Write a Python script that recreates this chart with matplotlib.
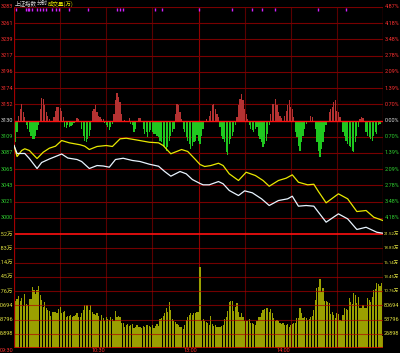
import numpy as np
import matplotlib
matplotlib.use('Agg')
import matplotlib.pyplot as plt
import matplotlib.transforms as mtransforms

plt.rcParams['font.family'] = ['Noto Sans CJK SC', 'DejaVu Sans']
NARROW = ['Roboto', 'Noto Sans CJK SC']

# ---- data ----
prev_close = 3130.4
step = 21.78  # one grid row = 0.70%

price_ticks_left = ['3283', '3261', '3239', '3217', '3196', '3174', '3152', '3130',
                    '3109', '3087', '3065', '3043', '3021', '3000']
price_ticks_right = ['4.87%', '4.18%', '3.48%', '2.78%', '2.09%', '1.39%', '0.70%', '0.00%',
                     '0.70%', '1.39%', '2.09%', '2.78%', '3.48%', '4.18%']
vol_ticks = ['21.52万', '18.83万', '16.14万', '13.45万', '10.76万', '80694', '53796', '26898']
vol_step = 2.6898  # 万

time_labels = ['09:30', '10:30', '13:00', '14:00']
time_pos = [0, 60, 120, 180]

# white line: index
price_min = [0, 2, 7, 10, 15, 18, 23, 27, 31, 35, 41, 44, 49, 54, 58, 62, 66, 71, 77, 82,
             88, 94, 98, 102, 108, 112, 116, 121, 123, 127, 133, 136, 140, 146, 150, 155,
             161, 166, 172, 178, 181, 185, 190, 195, 203, 211, 217, 223, 229, 236, 240]
price = [3096.8, 3086.1, 3086.1, 3079.3, 3065.9, 3074.0, 3078.7, 3082.0, 3085.4, 3080.0,
         3078.0, 3075.3, 3065.9, 3069.9, 3069.3, 3067.7, 3078.0, 3079.7, 3076.7, 3075.3,
         3071.7, 3069.0, 3061.9, 3055.6, 3061.9, 3058.8, 3051.1, 3045.8, 3044.0, 3044.0,
         3048.4, 3045.4, 3036.4, 3029.6, 3035.9, 3033.3, 3025.2, 3016.2, 3022.9, 3025.2,
         3028.7, 3015.3, 3016.2, 3015.3, 2993.8, 3005.0, 2998.3, 2984.0, 2987.0, 2980.3,
         2979.0]

# yellow line: leading index
lead_min = [0, 2, 5, 7, 10, 15, 19, 23, 27, 31, 36, 43, 46, 49, 54, 60, 64, 69, 73, 79,
            88, 94, 97, 100, 102, 109, 113, 118, 121, 124, 128, 133, 136, 140, 146, 151,
            157, 162, 166, 172, 177, 181, 185, 191, 195, 198, 203, 211, 217, 223, 229, 234,
            240]
lead = [3096.8, 3082.0, 3090.1, 3092.4, 3090.1, 3079.3, 3087.8, 3093.2, 3095.9, 3103.5,
        3100.4, 3097.8, 3095.9, 3091.4, 3095.5, 3096.8, 3095.5, 3105.8, 3106.6, 3104.5,
        3101.2, 3100.4, 3096.8, 3090.1, 3085.7, 3091.4, 3088.8, 3078.0, 3071.3, 3068.6,
        3069.9, 3073.0, 3069.9, 3058.8, 3049.8, 3060.9, 3056.5, 3049.8, 3042.1, 3049.8,
        3052.9, 3057.4, 3047.5, 3044.0, 3044.8, 3035.0, 3019.8, 3031.9, 3025.2, 3008.1,
        3009.5, 3000.5, 2996.0]

# red / green bars around the 0% line, one per minute (index points)
lead_bars = [
    -31.4, -29.0, -15.7, 6.7, 15.7, 22.4, 11.2, 4.5, -6.7, -11.2,
    -15.7, -20.2, -24.6, -24.6, -21.0, -13.4, -6.7, 15.7, 30.0, 29.0,
    20.2, 11.2, 5.4, 2.2, 0, 0, 4.5, 13.4, 18.8, 17.9,
    16.6, 13.4, 4.5, -9.0, -10.3, -6.7, -9.0, -7.6, -5.8, -3.1,
    0, 3.1, 2.0, 0, -11.2, -20.2, -26.9, -29.0, -24.6, -20.2,
    -13.4, 13.4, 15.7, 20.2, 11.2, 6.7, 4.5, 2.2, 2.2, -3.1,
    -6.7, -9.0, -13.4, -9.0, -4.5, 9.0, 26.9, 37.2, 31.4, 24.6,
    9.0, 0, 1.3, 0, 0, 3.6, -4.5, -6.7, -15.7, -11.2,
    0, 3.6, 3.6, 0, -11.2, -17.9, -15.7, -22.4, -15.7, -13.4,
    -15.7, -17.9, -17.9, -20.2, -22.4, -26.9, -29.1, -33.6, -35.8, -40.3,
    -35.8, -26.9, -20.2, -15.7, -11.2, 9.0, 22.4, 20.2, 11.2, 2.2,
    -11.2, -15.7, -22.4, -26.9, -31.4, -38.1, -33.6, -29.1, -26.9, -20.0,
    -28.0, -31.4, -20.2, -11.2, 0, 2.2, 0, 6.7, 13.4, 20.2,
    22.4, 15.7, 9.0, 4.5, -9.0, -20.2, -24.6, -29.1, -42.6, -47.0,
    -31.4, -24.6, -20.2, -15.7, -6.7, 4.5, 20.2, 29.1, 35.8, 26.9,
    15.7, 9.0, 2.2, -5.8, -11.2, -13.4, -15.7, -11.2, -9.0, -20.2,
    -24.6, -29.1, -35.8, -31.4, -26.9, -17.9, -6.7, 9.0, 22.4, 22.4,
    29.1, 20.2, 11.2, 6.7, 3.6, 0, 6.7, 13.4, 20.2, 26.9,
    17.9, 15.7, 4.5, -15.7, -22.4, -33.6, -40.3, -29.1, -20.2, -11.2,
    -4.5, 0, 0, 6.7, 4.5, 0, -11.2, -29.1, -40.3, -49.3,
    -38.1, -29.1, -15.7, -6.7, 0, 11.2, 15.7, 17.9, 24.6, 26.9,
    13.4, 11.2, 4.5, 0, -15.7, -20.2, -26.9, -31.4, -33.6, -35.8,
    -40.3, -42.6, -29.1, -20.2, -9.0, 2.2, 4.5, 3.1, 0, -15.7,
    -20.2, -22.4, -24.6, -26.9, -20.2, -15.7, -17.9, -6.7, -4.5, 0,
    0]

# volume per minute (万)
volume = [
    19.63, 8.93, 9.25, 9.82, 8.93, 9.38, 7.93, 10.13, 8.31, 8.12,
    9.25, 9.25, 11.58, 11.0, 10.19, 10.95, 11.70, 10.0, 9.06, 7.80,
    8.75, 7.49, 7.17, 7.05, 6.04, 6.86, 6.8, 6.73, 6.54, 7.30,
    7.68, 6.54, 6.86, 6.98, 5.79, 6.04, 6.04, 6.23, 5.79, 6.0,
    6.23, 6.67, 5.79, 5.79, 6.54, 7.17, 8.12, 8.12, 8.12, 7.17,
    8.12, 6.86, 6.5, 6.23, 6.54, 6.04, 5.16, 6.23, 5.73, 5.10,
    5.79, 5.41, 5.29, 5.79, 5.41, 5.16, 7.05, 5.79, 6.04, 5.79,
    4.66, 4.66, 4.03, 4.34, 4.53, 4.15, 4.34,
    4.47, 3.71, 4.0, 4.34, 3.90, 4.03, 3.84, 4.22, 3.90, 4.34,
    4.34, 4.15, 4.03, 4.34, 3.71, 4.1, 4.53, 4.15, 5.41, 5.60,
    6.04, 6.67, 7.49, 6.86, 8.75, 7.17, 5.41, 5.16, 5.0, 4.53,
    4.34, 4.03, 3.90, 3.52, 4.34, 5.29, 5.79, 6.23, 6.54, 6.23,
    6.54, 6.7, 6.86, 6.86, 15.23, 5.16, 5.41, 5.16, 4.97, 4.66,
    4.34, 6.04, 4.53, 4.15, 4.3, 3.90, 3.90, 4.03, 4.15, 4.34,
    5.41, 5.79, 7.05, 8.75, 8.87, 8.93, 7.05, 7.8, 8.56, 6.86,
    5.79, 6.67, 5.79, 5.16, 5.16, 5.16, 5.41, 4.66, 4.66, 4.53,
    4.34, 5.16, 5.79, 5.79, 6.54, 7.17, 7.30, 7.55,
    7.49, 6.86, 7.30, 6.54, 5.60, 5.16, 5.29, 5.16, 4.66, 4.53,
    4.66, 4.34, 4.4, 4.53, 4.03, 4.34, 4.53, 4.66, 4.66, 5.60,
    5.60, 7.49, 6.67, 5.60, 5.79, 5.6, 5.29, 5.41, 5.91, 6.04,
    7.17, 9.06, 11.26, 11.58, 12.96, 10.63, 11.26, 8.93, 8.8, 8.75,
    8.43, 6.42, 6.86, 6.23, 5.60, 6.54, 6.42, 5.29, 5.16, 6.23,
    7.49, 7.3, 7.17, 9.38, 8.75, 8.31, 10.32, 10.0, 8.43, 9.69,
    7.49, 7.49, 8.12, 7.49, 7.6, 9.38, 9.06, 8.75, 9.69, 10.95,
    11.07, 12.33, 12.08, 11.70, 12.21, 2.27]

# magenta marks along the top edge (minutes)
alert_min = [1, 8, 9, 10, 12, 15, 17, 19, 21, 25, 27, 29, 36, 48, 67, 69, 71,
             92, 96, 120, 142, 155, 161, 170, 198, 216]

# ---- figure ----
BG = 'black'
GRID = '#780000'
VGRID = '#5a0000'
BRIGHT = '#ff1010'
W, H = 400, 353
fig = plt.figure(figsize=(W / 100, H / 100), dpi=100, facecolor=BG)

def frac(x0, y0, x1, y1):
    return [x0 / W, 1 - y1 / H, (x1 - x0) / W, (y1 - y0) / H]

ax = fig.add_axes(frac(14, 7, 383, 234))
axv = fig.add_axes(frac(14, 234, 383, 348))
for a in (ax, axv):
    a.set_facecolor(BG)
    a.set_xlim(0, 240)
    a.set_xticks([])
    a.set_yticks([])
    for s in a.spines.values():
        s.set_visible(False)
    for t in range(30, 240, 30):
        c = '#900000' if t == 120 else VGRID
        a.axvline(t, color=c, lw=0.8, zorder=1)
    a.axvline(0, color='#a00000', lw=0.9, zorder=5)
    a.axvline(240, color='#a00000', lw=0.9, zorder=5)

# price panel
levels = [prev_close + step * k for k in range(7, -8, -1)]
ax.set_ylim(levels[-1], levels[0])
for i, lv in enumerate(levels):
    if i == 7:
        ax.axhline(lv, color=BRIGHT, lw=1.0, zorder=4)
    elif i == 14:
        ax.axhline(lv, color=BRIGHT, lw=1.2, zorder=4)
    else:
        ax.axhline(lv, color=GRID, lw=0.8, zorder=1)

mins = np.arange(len(lead_bars))
lb = np.array(lead_bars)
ax.bar(mins[lb > 0], lb[lb > 0], bottom=prev_close, width=0.8, color='#b43232', zorder=2)
ax.bar(mins[lb < 0], lb[lb < 0], bottom=prev_close, width=0.8, color='#1fc81f', zorder=2)

ax.plot(lead_min, lead, color='#e8e800', lw=0.9, zorder=6)
ax.plot(price_min, price, color='#e8f4ff', lw=0.9, zorder=6)

trans = mtransforms.blended_transform_factory(ax.transData, ax.transAxes)
ax.vlines(alert_min, 0.981, 0.995, color='#d020ff', lw=1.0, transform=trans, zorder=7)

# volume panel
axv.set_ylim(0, vol_step * 8)
axv.bar(np.arange(len(volume)), volume, width=0.78, color='#9aa000', zorder=2)
for k in range(1, 9):
    col = '#ff1010' if k == 8 else '#b00000'
    al = 1.0 if k == 8 else 0.65
    axv.axhline(vol_step * k, color=col, lw=0.8 if k < 8 else 1.2, alpha=al, zorder=4)
axv.axhline(0, color='#c00000', lw=1.2, zorder=4)

# tick texts
fs = 4.0
for i, lv in enumerate(levels[:-1]):
    yy = 1 - (7 + i * 227 / 14) / H
    col = '#ff3030' if i < 7 else ('#e0e0e0' if i == 7 else '#30d030')
    fig.text(13 / W, yy, price_ticks_left[i], color=col, fontsize=fs,
             ha='right', va='center', family=NARROW)
    fig.text(384.5 / W, yy, price_ticks_right[i], color=col, fontsize=fs,
             ha='left', va='center', family=NARROW)
for k, lbl in enumerate(vol_ticks):
    yy = 1 - (234 + k * 114 / 8) / H
    fig.text(13 / W, yy, lbl, color='#e0e040', fontsize=fs, ha='right', va='center',
             family=NARROW)
    fig.text(384 / W, yy, lbl, color='#e0e040', fontsize=3.2 if '万' in lbl else fs,
             ha='left', va='center', family=NARROW)

for lbl, m in zip(time_labels, time_pos):
    xx = (14 + m * 369 / 240 - 1) / W
    fig.text(xx, 1 - 351 / H, lbl, color='#ff3030', fontsize=fs, ha='right', va='center',
             family=NARROW)

# title
fig.text(15 / W, 1 - 3.5 / H, '上证指数', color='#d8d8d8', fontsize=4.0, va='center')
fig.text(37 / W, 1 - 3.5 / H, '分时', color='#d8d8d8', fontsize=4.0, va='center')
fig.text(48 / W, 1 - 3.5 / H, '成交量(万)', color='#e8e800', fontsize=4.0, va='center')

fig.savefig('out.png', dpi=100, facecolor=BG)
